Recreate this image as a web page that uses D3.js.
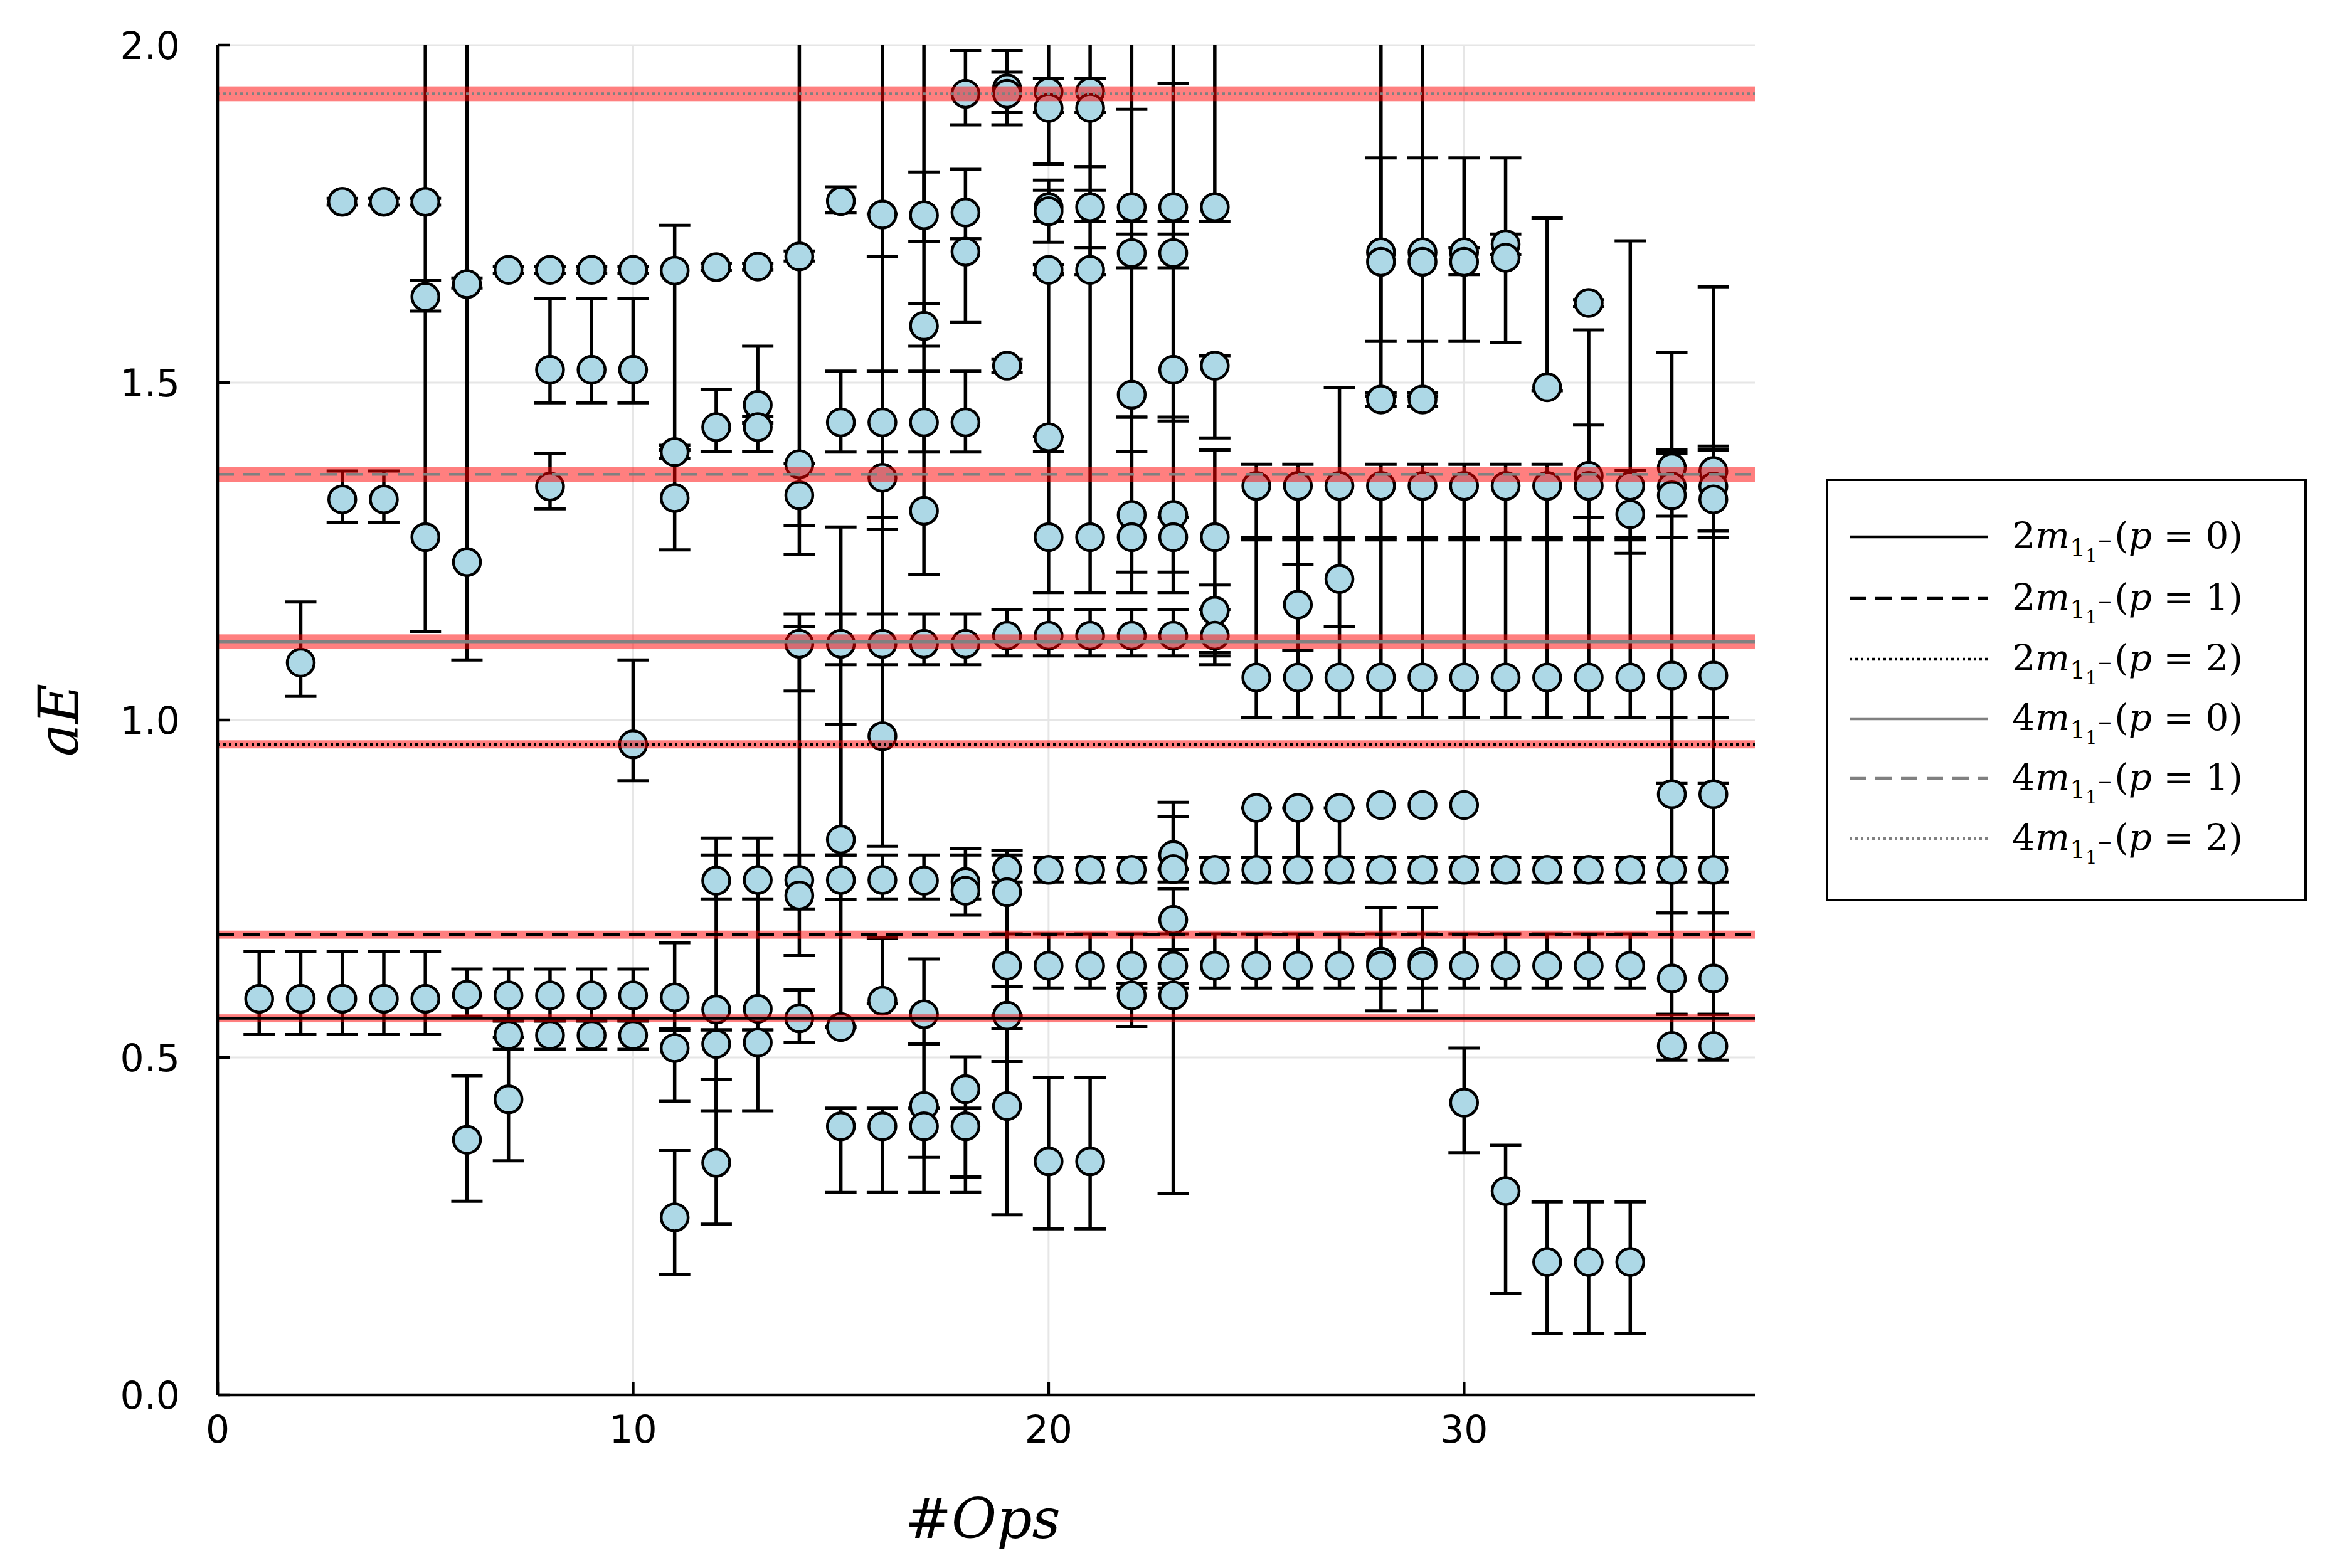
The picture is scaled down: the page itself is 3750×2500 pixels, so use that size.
<!DOCTYPE html>
<html><head><meta charset="utf-8">
<script src="https://cdn.jsdelivr.net/npm/d3@7"></script>
<style>body{margin:0;background:#fff}</style>
</head><body>
<script>
// ---------- data ----------
// rows: [#Ops, aE, lower bound, upper bound]
const measurements = [
[1,0.587,0.534,0.657],
[2,1.085,1.035,1.175],[2,0.587,0.534,0.657],
[3,1.768,1.763,1.773],[3,1.327,1.293,1.369],[3,0.587,0.534,0.657],
[4,1.768,1.763,1.773],[4,1.327,1.293,1.369],[4,0.587,0.534,0.657],
[5,1.768,1.763,1.773],[5,1.627,1.606,1.651],[5,1.271,1.131,2.3],[5,0.587,0.534,0.657],
[6,1.646,1.640,1.655],[6,1.234,1.089,2.3],[6,0.593,0.561,0.631],[6,0.378,0.287,0.473],
[7,1.667,1.662,1.672],[7,0.592,0.555,0.631],[7,0.533,0.512,0.554],[7,0.438,0.347,0.530],
[8,1.667,1.662,1.672],[8,1.519,1.470,1.625],[8,1.346,1.313,1.395],[8,0.592,0.555,0.631],[8,0.533,0.512,0.554],
[9,1.667,1.662,1.672],[9,1.519,1.470,1.625],[9,0.592,0.555,0.631],[9,0.533,0.512,0.554],
[10,1.667,1.662,1.672],[10,1.519,1.470,1.625],[10,0.964,0.910,1.089],[10,0.592,0.555,0.631],[10,0.533,0.512,0.554],
[11,1.666,1.400,1.733],[11,1.397,1.387,1.407],[11,1.329,1.252,1.400],[11,0.589,0.543,0.670],[11,0.514,0.435,0.540],[11,0.263,0.178,0.362],
[12,1.671,1.666,1.676],[12,1.434,1.398,1.490],[12,0.762,0.735,0.800],[12,0.571,0.541,0.825],[12,0.520,0.421,0.541],[12,0.344,0.253,0.468],
[13,1.672,1.667,1.677],[13,1.467,1.440,1.554],[13,1.434,1.398,1.450],[13,0.763,0.735,0.800],[13,0.572,0.541,0.825],[13,0.522,0.421,0.541],
[14,1.687,1.680,1.695],[14,1.379,1.245,2.3],[14,1.333,1.288,1.380],[14,1.113,1.043,1.157],[14,0.763,0.651,1.138],[14,0.740,0.720,0.800],[14,0.558,0.522,0.600],
[15,1.769,1.752,1.790],[15,1.441,1.397,1.517],[15,1.113,1.082,1.157],[15,0.823,0.800,0.994],[15,0.763,0.734,0.800],[15,0.545,0.545,1.286],[15,0.398,0.300,0.425],
[16,1.749,1.687,2.3],[16,1.441,1.397,1.517],[16,1.359,1.282,1.750],[16,1.113,1.082,1.157],[16,0.976,0.813,1.300],[16,0.763,0.735,0.800],[16,0.584,0.580,0.677],[16,0.398,0.300,0.425],
[17,1.748,1.709,1.812],[17,1.584,1.554,1.617],[17,1.441,1.397,1.517],[17,1.310,1.216,2.3],[17,1.113,1.082,1.157],[17,0.762,0.735,0.800],[17,0.564,0.520,0.646],[17,0.428,0.352,0.520],[17,0.398,0.300,0.425],
[18,1.928,1.882,1.992],[18,1.752,1.713,1.816],[18,1.694,1.589,1.713],[18,1.441,1.397,1.517],[18,1.113,1.082,1.157],[18,0.760,0.735,0.809],[18,0.747,0.711,0.800],[18,0.453,0.323,0.501],[18,0.398,0.300,0.425],
[19,1.936,1.900,1.992],[19,1.928,1.882,1.960],[19,1.525,1.515,1.535],[19,1.125,1.095,1.164],[19,0.779,0.760,0.807],[19,0.745,0.605,0.800],[19,0.636,0.543,0.683],[19,0.562,0.494,0.605],[19,0.428,0.267,0.562],
[20,1.931,1.900,1.951],[20,1.907,1.824,2.3],[20,1.760,1.739,1.785],[20,1.754,1.708,1.800],[20,1.667,1.662,1.675],[20,1.419,1.398,1.660],[20,1.271,1.189,1.420],[20,1.125,1.095,1.164],[20,0.778,0.760,0.797],[20,0.636,0.603,0.683],[20,0.346,0.246,0.470],
[21,1.931,1.900,1.951],[21,1.907,1.820,2.3],[21,1.760,1.739,1.785],[21,1.667,1.660,1.820],[21,1.271,1.189,1.700],[21,1.125,1.095,1.164],[21,0.778,0.760,0.797],[21,0.636,0.603,0.683],[21,0.346,0.246,0.470],
[22,1.760,1.739,2.3],[22,1.692,1.670,1.720],[22,1.482,1.449,1.905],[22,1.304,1.219,1.398],[22,1.271,1.189,1.449],[22,1.125,1.095,1.164],[22,0.778,0.760,0.797],[22,0.636,0.603,0.683],[22,0.592,0.546,0.610],
[23,1.760,1.739,2.3],[23,1.692,1.670,1.720],[23,1.519,1.443,1.943],[23,1.304,1.219,1.449],[23,1.271,1.189,1.300],[23,1.125,1.095,1.164],[23,0.800,0.779,0.878],[23,0.779,0.760,0.857],[23,0.704,0.660,0.750],[23,0.636,0.603,0.683],[23,0.592,0.298,0.610],
[24,1.760,1.739,2.3],[24,1.525,1.418,1.540],[24,1.271,1.082,1.400],[24,1.162,1.100,1.200],[24,1.125,1.095,1.164],[24,0.778,0.760,0.797],[24,0.636,0.603,0.683],
[25,1.347,1.267,1.379],[25,1.063,1.004,1.270],[25,0.870,0.797,0.870],[25,0.778,0.760,0.797],[25,0.636,0.603,0.683],
[26,1.347,1.267,1.379],[26,1.171,1.103,1.230],[26,1.063,1.004,1.270],[26,0.870,0.797,0.870],[26,0.778,0.760,0.797],[26,0.636,0.603,0.683],
[27,1.347,1.267,1.492],[27,1.209,1.138,1.270],[27,1.063,1.004,1.270],[27,0.870,0.797,0.870],[27,0.778,0.760,0.797],[27,0.636,0.603,0.683],
[28,1.693,1.561,1.833],[28,1.679,1.480,2.3],[28,1.475,1.465,1.485],[28,1.347,1.267,1.379],[28,1.063,1.004,1.270],[28,0.874,0.874,0.874],[28,0.778,0.760,0.797],[28,0.642,0.569,0.722],[28,0.636,0.603,0.683],
[29,1.693,1.561,1.833],[29,1.679,1.480,2.3],[29,1.475,1.465,1.485],[29,1.347,1.267,1.379],[29,1.063,1.004,1.270],[29,0.874,0.874,0.874],[29,0.778,0.760,0.797],[29,0.642,0.569,0.722],[29,0.636,0.603,0.683],
[30,1.693,1.561,1.833],[30,1.679,1.660,1.700],[30,1.347,1.267,1.379],[30,1.063,1.004,1.270],[30,0.874,0.874,0.874],[30,0.778,0.760,0.797],[30,0.636,0.603,0.683],[30,0.433,0.359,0.514],
[31,1.705,1.690,1.720],[31,1.685,1.559,1.833],[31,1.347,1.267,1.379],[31,1.063,1.004,1.270],[31,0.778,0.760,0.797],[31,0.636,0.603,0.683],[31,0.302,0.150,0.370],
[32,1.493,1.488,1.744],[32,1.347,1.267,1.379],[32,1.063,1.004,1.270],[32,0.778,0.760,0.797],[32,0.636,0.603,0.683],[32,0.197,0.091,0.286],
[33,1.618,1.613,1.623],[33,1.362,1.267,1.578],[33,1.347,1.300,1.437],[33,1.063,1.004,1.270],[33,0.778,0.760,0.797],[33,0.636,0.603,0.683],[33,0.197,0.091,0.286],
[34,1.347,1.267,1.710],[34,1.305,1.247,1.370],[34,1.063,1.004,1.270],[34,0.778,0.760,0.797],[34,0.636,0.603,0.683],[34,0.197,0.091,0.286],
[35,1.374,1.302,1.545],[35,1.346,1.270,1.395],[35,1.333,1.270,1.400],[35,1.066,0.906,1.270],[35,0.890,0.714,1.004],[35,0.778,0.760,0.797],[35,0.617,0.564,0.714],[35,0.517,0.496,0.564],
[36,1.369,1.280,1.642],[36,1.346,1.280,1.406],[36,1.327,1.270,1.400],[36,1.066,0.906,1.270],[36,0.890,0.714,1.004],[36,0.778,0.760,0.797],[36,0.617,0.564,0.714],[36,0.517,0.496,0.564]
];
// reference levels (legend order)
const refMass   = ["2m", "2m", "2m", "4m", "4m", "4m"];
const refP      = [0, 1, 2, 0, 1, 2];
const refValues = [0.558, 0.682, 0.964, 1.116, 1.364, 1.928];
const refErrors = [0.006, 0.006, 0.006, 0.011, 0.011, 0.011];
const xTicks = [0, 10, 20, 30];
const yTicks = [0.0, 0.5, 1.0, 1.5, 2.0];
const xDomain = [0, 37];
const yDomain = [0, 2];

// ---------- layout ----------
const W = 3750, H = 2500;
const L = 347, R = 2798, T = 72, B = 2224;
const svg = d3.select("body").append("svg").attr("width", W).attr("height", H)
  .style("font-family", "DejaVu Sans");
svg.append("rect").attr("width", W).attr("height", H).attr("fill", "#fff");

const x = d3.scaleLinear().domain(xDomain).range([L, R]);
const y = d3.scaleLinear().domain(yDomain).range([B, T]);

svg.append("defs").append("clipPath").attr("id", "clip")
  .append("rect").attr("x", L).attr("y", T).attr("width", R - L).attr("height", B - T);

// grid
const grid = svg.append("g").attr("stroke", "#e6e6e6").attr("stroke-width", 3);
grid.selectAll(".gx").data(xTicks).join("line")
  .attr("x1", d => x(d)).attr("x2", d => x(d)).attr("y1", T).attr("y2", B);
grid.selectAll(".gy").data(yTicks).join("line")
  .attr("x1", L).attr("x2", R).attr("y1", d => y(d)).attr("y2", d => y(d));

const plot = svg.append("g").attr("clip-path", "url(#clip)");

// error bars
const capW = 25;
const eb = plot.append("g").attr("stroke", "#000").attr("stroke-width", 5.5);
measurements.forEach(m => {
  const cx = x(m[0]);
  if (m[3] > m[2]) {
    eb.append("line").attr("x1", cx).attr("x2", cx).attr("y1", y(m[2])).attr("y2", y(m[3]));
    [m[2], m[3]].forEach(v => eb.append("line").attr("x1", cx - capW).attr("x2", cx + capW)
      .attr("y1", y(v)).attr("y2", y(v)).attr("stroke-width", 5));
  }
});
// markers
plot.append("g").selectAll("circle").data(measurements).join("circle")
  .attr("cx", d => x(d[0])).attr("cy", d => y(d[1])).attr("r", 21.5)
  .attr("fill", "#add8e6").attr("stroke", "#000").attr("stroke-width", 4.5);

// red uncertainty bands
plot.append("g").selectAll("rect").data(refValues).join("rect")
  .attr("x", L).attr("width", R - L)
  .attr("y", (d, i) => y(d + refErrors[i]))
  .attr("height", (d, i) => y(d - refErrors[i]) - y(d + refErrors[i]))
  .attr("fill", "red").attr("fill-opacity", 0.5);

// reference lines
const dashes = ["none", "26,15", "4,5"];
const lineColor = i => refMass[i] === "2m" ? "#000" : "#808080";
plot.append("g").selectAll("line").data(refValues).join("line")
  .attr("x1", L).attr("x2", R).attr("y1", d => y(d)).attr("y2", d => y(d))
  .attr("stroke", (d, i) => lineColor(i)).attr("stroke-width", 4.5)
  .attr("stroke-dasharray", (d, i) => dashes[refP[i]]);

// axes
const ax = svg.append("g").attr("stroke", "#000").attr("stroke-width", 4.5);
ax.append("line").attr("x1", L).attr("x2", L).attr("y1", T).attr("y2", B);
ax.append("line").attr("x1", L).attr("x2", R).attr("y1", B).attr("y2", B);
xTicks.forEach(t => ax.append("line").attr("x1", x(t)).attr("x2", x(t)).attr("y1", B).attr("y2", B - 20));
yTicks.forEach(t => ax.append("line").attr("x1", L).attr("x2", L + 20).attr("y1", y(t)).attr("y2", y(t)));

svg.append("g").selectAll("text").data(xTicks).join("text")
  .attr("x", d => x(d)).attr("y", 2300).attr("text-anchor", "middle")
  .attr("font-size", 60).attr("fill", "#000").text(d => d3.format("d")(d));
svg.append("g").selectAll("text").data(yTicks).join("text")
  .attr("x", 287).attr("y", d => y(d)).attr("dy", "0.36em").attr("text-anchor", "end")
  .attr("font-size", 60).attr("fill", "#000").text(d => d3.format(".1f")(d));

// axis titles
const serif = "'DejaVu Serif', 'Liberation Serif', serif";
svg.append("text").attr("x", 1567).attr("y", 2452).attr("text-anchor", "middle")
  .attr("font-family", serif).attr("font-size", 88)
  .call(t => { t.append("tspan").text("#"); t.append("tspan").attr("font-style", "italic").text("Ops"); });
svg.append("text").attr("transform", "translate(124,1148) rotate(-90)").attr("text-anchor", "middle")
  .attr("font-family", serif).attr("font-size", 88).attr("font-style", "italic").text("aE");

// legend
const lg = svg.append("g");
lg.append("rect").attr("x", 2913).attr("y", 765).attr("width", 763).attr("height", 670)
  .attr("fill", "#fff").attr("stroke", "#000").attr("stroke-width", 4);
const rowY = [856, 954, 1051, 1146, 1241, 1337];
refValues.forEach((v, i) => {
  lg.append("line").attr("x1", 2949).attr("x2", 3169).attr("y1", rowY[i]).attr("y2", rowY[i])
    .attr("stroke", lineColor(i)).attr("stroke-width", 4.5).attr("stroke-dasharray", dashes[refP[i]]);
  const t = lg.append("text").attr("x", 3208).attr("y", rowY[i] + 18)
    .attr("font-family", serif).attr("font-size", 58).attr("fill", "#000");
  t.append("tspan").text(refMass[i][0]);
  t.append("tspan").attr("font-style", "italic").text("m");
  t.append("tspan").attr("font-size", 40).attr("dy", 13).text("1");
  t.append("tspan").attr("font-size", 29).attr("dy", 9).text("1");
  t.append("tspan").attr("font-size", 29).attr("dy", -24).text("−");
  t.append("tspan").attr("dy", 2).attr("dx", 3).text("(");
  t.append("tspan").attr("font-style", "italic").text("p");
  t.append("tspan").text(" = " + refP[i] + ")");
});
</script>
</body></html>
